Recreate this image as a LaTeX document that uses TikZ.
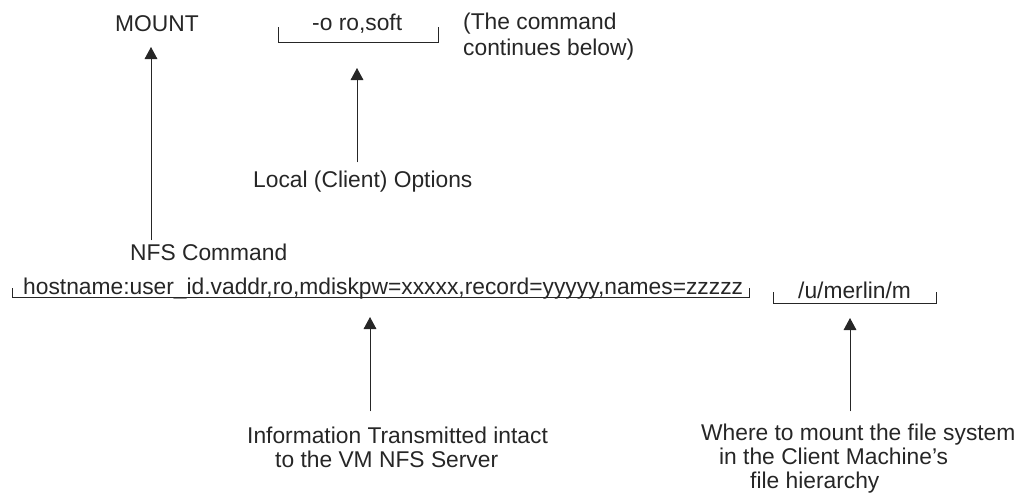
\documentclass[tikz,border=0pt]{standalone}
\usepackage{fontspec}
\setmainfont{Liberation Sans}
\usetikzlibrary{arrows.meta, positioning}

\begin{document}
\begin{tikzpicture}[
  x=0.75pt, y=-0.75pt,
  line width=0.75pt, draw=black!85,
  every node/.style={inner sep=2pt, font=\fontsize{17.1}{18}\selectfont, text=black!85},
  lbl/.style={anchor=base west, align=left},
  arr/.style={-{Triangle[length=9pt, width=9.5pt]}}
]
\useasboundingbox (0,0) rectangle (1016,497);
\node[lbl] (mount) at (112,31) {MOUNT};
\node[lbl] (opts) at (309,30) {-o ro,soft};
\node[lbl, font=\fontsize{17.1}{19.5}\selectfont] (note) at (460,55) {(The command\\continues below)};
\node[lbl] (local) at (250,187) {Local (Client) Options};
\node[lbl] (nfscmd) at (127,260) {NFS Command};
\node[lbl] (nfsargs) at (20,294) {hostname:user\_id.vaddr,ro,mdiskpw=xxxxx,record=yyyyy,names=zzzzz};
\node[lbl] (mpoint) at (795,298) {/u/merlin/m};
\node[lbl] (info) at (244,467) {Information Transmitted intact\\\hspace*{21pt}to the VM NFS Server};
\node[lbl] (where) at (698,488) {Where to mount the file system\\\hspace*{13.5pt}in the Client Machine's\\\hspace*{36.75pt}file hierarchy};
\draw (278,27) |- (438,42) -- (438,27);
\draw (12,288) |- (749,297) -- (749,288);
\draw (773,292) |- (936,303) -- (936,292);
\coordinate (mounttip) at (151,47);
\coordinate (optstip) at (357,68);
\coordinate (argstip) at (370,317);
\coordinate (mpointtip) at (850,318);
\draw[arr] (nfscmd.north -| mounttip) -- (mounttip);
\draw[arr, shorten <=3.75pt] (local.north -| optstip) -- (optstip);
\draw[arr, shorten <=9pt] (info.north -| argstip) -- (argstip);
\draw[arr, shorten <=6.75pt] (where.north -| mpointtip) -- (mpointtip);
\end{tikzpicture}
\end{document}
